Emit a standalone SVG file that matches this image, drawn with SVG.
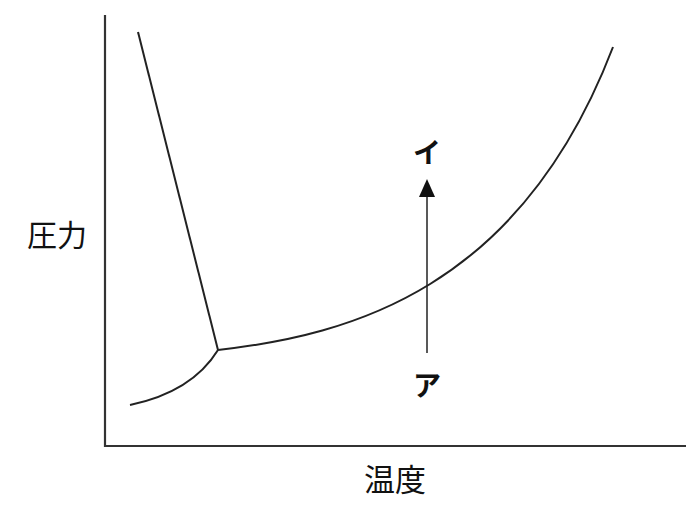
<svg xmlns="http://www.w3.org/2000/svg" width="696" height="512" viewBox="0 0 696 512">
<style>
.ln{fill:none;stroke:#222;stroke-width:2}
.ax{fill:none;stroke:#333;stroke-width:2.2}
.lbl{font-family:"Noto Sans CJK JP",sans-serif;fill:#111;text-anchor:middle}
</style>
<rect width="696" height="512" fill="#fff"/>
<g id="axes">
<path class="ax" d="M105,15 V446 H686"/>
</g>
<g id="curves">
<path class="ln" d="M138,32 L218,350"/>
<path class="ln" d="M130,405 Q192,392 218,350"/>
<path class="ln" d="M218,350 C350,335 520,290 613,47"/>
</g>
<g id="connectors">
<line x1="427" y1="353" x2="427" y2="195" stroke="#222" stroke-width="1.5"/>
<polygon points="427,179 419,197 435,197" fill="#111"/>
</g>
<g id="labels">
<text class="lbl" x="57" y="246" font-size="30">圧力</text>
<text class="lbl" x="395" y="491" font-size="31">温度</text>
<text class="lbl" x="427" y="163" font-size="28" font-weight="bold">イ</text>
<text class="lbl" x="427" y="396" font-size="28" font-weight="bold">ア</text>
</g>
</svg>
